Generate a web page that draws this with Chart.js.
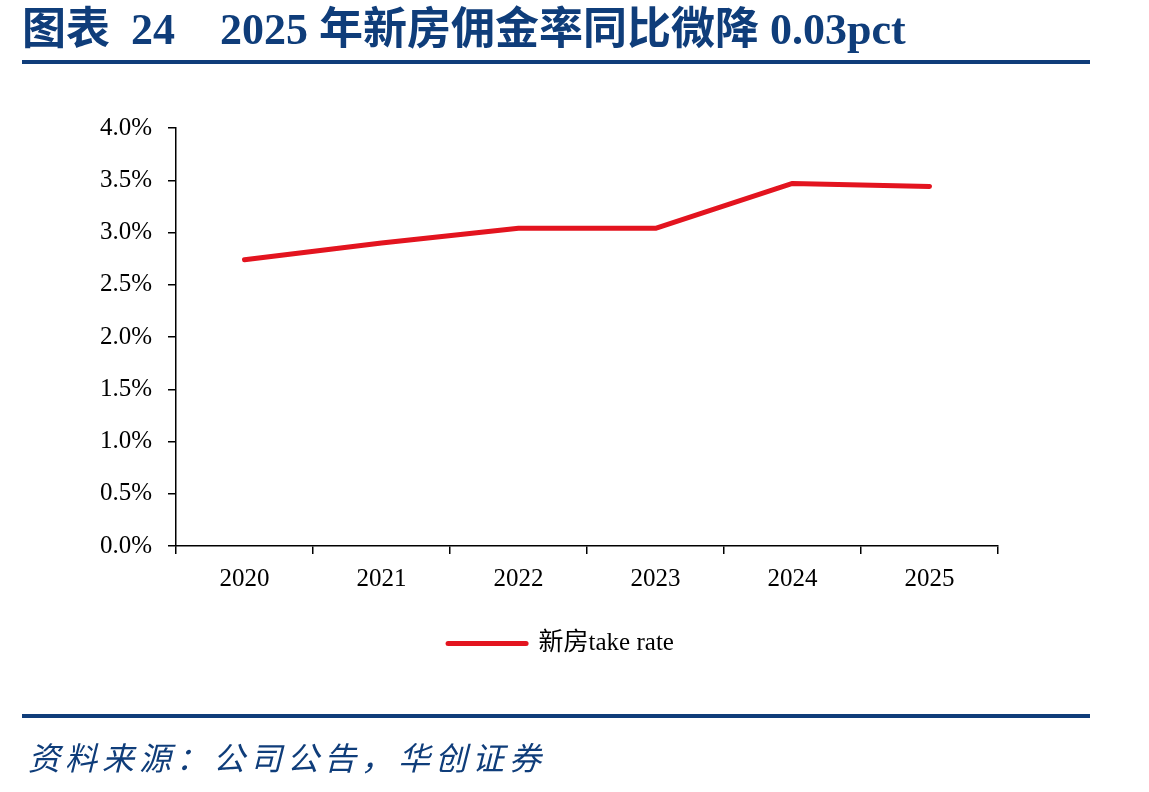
<!DOCTYPE html>
<html>
<head>
<meta charset="utf-8">
<script src="https://cdn.jsdelivr.net/npm/chart.js@4.4.1/dist/chart.umd.min.js"></script>
<style>
  html, body { margin: 0; padding: 0; background: #fff; }
  body { width: 1149px; height: 792px; position: relative; overflow: hidden; }
  #wrap { position: absolute; left: 0; top: 0; width: 1149px; height: 792px; }
  .title { position: absolute; top: 4px; height: 52px; line-height: 52px; font-family: "Liberation Serif", "Noto Sans CJK SC", serif; font-weight: bold; font-size: 44px; color: #0f3d7a; white-space: nowrap; }
  .rule { position: absolute; left: 22px; width: 1068px; height: 4px; background: #0f3d7a; }
  .source { position: absolute; left: 28px; top: 733px; font-family: "Noto Sans CJK SC", serif; font-style: italic; font-size: 32px; letter-spacing: 5px; color: #0f3d7a; white-space: nowrap; }
</style>
</head>
<body>
<div id="wrap"><canvas id="c" width="1149" height="792"></canvas></div>
<div class="title" style="left:22px">图表</div>
<div class="title" style="left:131px">24</div>
<div class="title" style="left:220px">2025 年新房佣金率同比微降 0.03pct</div>
<div class="rule" style="top:60px"></div>
<div class="rule" style="top:714px"></div>
<div class="source">资料来源：公司公告，华创证券</div>
<script>
const categories = ["2020", "2021", "2022", "2023", "2024", "2025"];
const takeRate = [2.74, 2.90, 3.04, 3.04, 3.47, 3.44];
const seriesName = "新房take rate";
const yTicks = [0, 0.5, 1.0, 1.5, 2.0, 2.5, 3.0, 3.5, 4.0];

const serif = "'Liberation Serif', 'Noto Sans CJK SC', serif";
const legendShift = {
  id: 'legendShift',
  afterLayout(chart) {
    const lg = chart.legend;
    if (lg) { lg.left = 124; lg.right = chart.chartArea.right; }
  }
};
new Chart(document.getElementById('c'), {
  type: 'line',
  data: {
    labels: categories,
    datasets: [{
      label: seriesName,
      data: takeRate,
      borderColor: '#e3141f',
      backgroundColor: '#e3141f',
      borderWidth: 5,
      borderCapStyle: 'round',
      borderJoinStyle: 'round',
      pointRadius: 0,
      tension: 0
    }]
  },
  plugins: [legendShift],
  options: {
    responsive: false,
    animation: false,
    layout: { padding: { left: 0, right: 151, top: 128, bottom: 126 } },
    plugins: {
      legend: {
        position: 'bottom',
        labels: {
          usePointStyle: true,
          pointStyle: 'line',
          pointStyleWidth: 78,
          boxHeight: 5,
          padding: 10,
          color: '#000',
          font: { family: serif, size: 25 },
          generateLabels(chart) {
            const ds = chart.data.datasets[0];
            return [{ text: ds.label, strokeStyle: ds.borderColor, fillStyle: ds.borderColor, lineWidth: 5, lineCap: 'round', pointStyle: 'line', datasetIndex: 0, fontColor: '#000' }];
          }
        }
      },
      tooltip: { enabled: false }
    },
    scales: {
      x: {
        offset: true,
        grid: { offset: true, drawOnChartArea: false, drawTicks: true, tickLength: 8, color: '#000', lineWidth: 1.5 },
        border: { color: '#000', width: 1.5 },
        ticks: { color: '#000', font: { family: serif, size: 25 }, padding: 10, maxRotation: 0 },
        afterFit(scale) { scale.height = 75; }
      },
      y: {
        min: 0, max: 4,
        afterBuildTicks(scale) { scale.ticks = yTicks.map(v => ({ value: v })); },
        grid: { drawOnChartArea: false, drawTicks: true, tickLength: 8, color: '#000', lineWidth: 1.5 },
        border: { color: '#000', width: 1.5 },
        ticks: { color: '#000', font: { family: serif, size: 25 }, padding: 16, callback: v => v.toFixed(1) + '%' },
        afterFit(scale) { scale.width = 176; }
      }
    }
  }
});
</script>
</body>
</html>
